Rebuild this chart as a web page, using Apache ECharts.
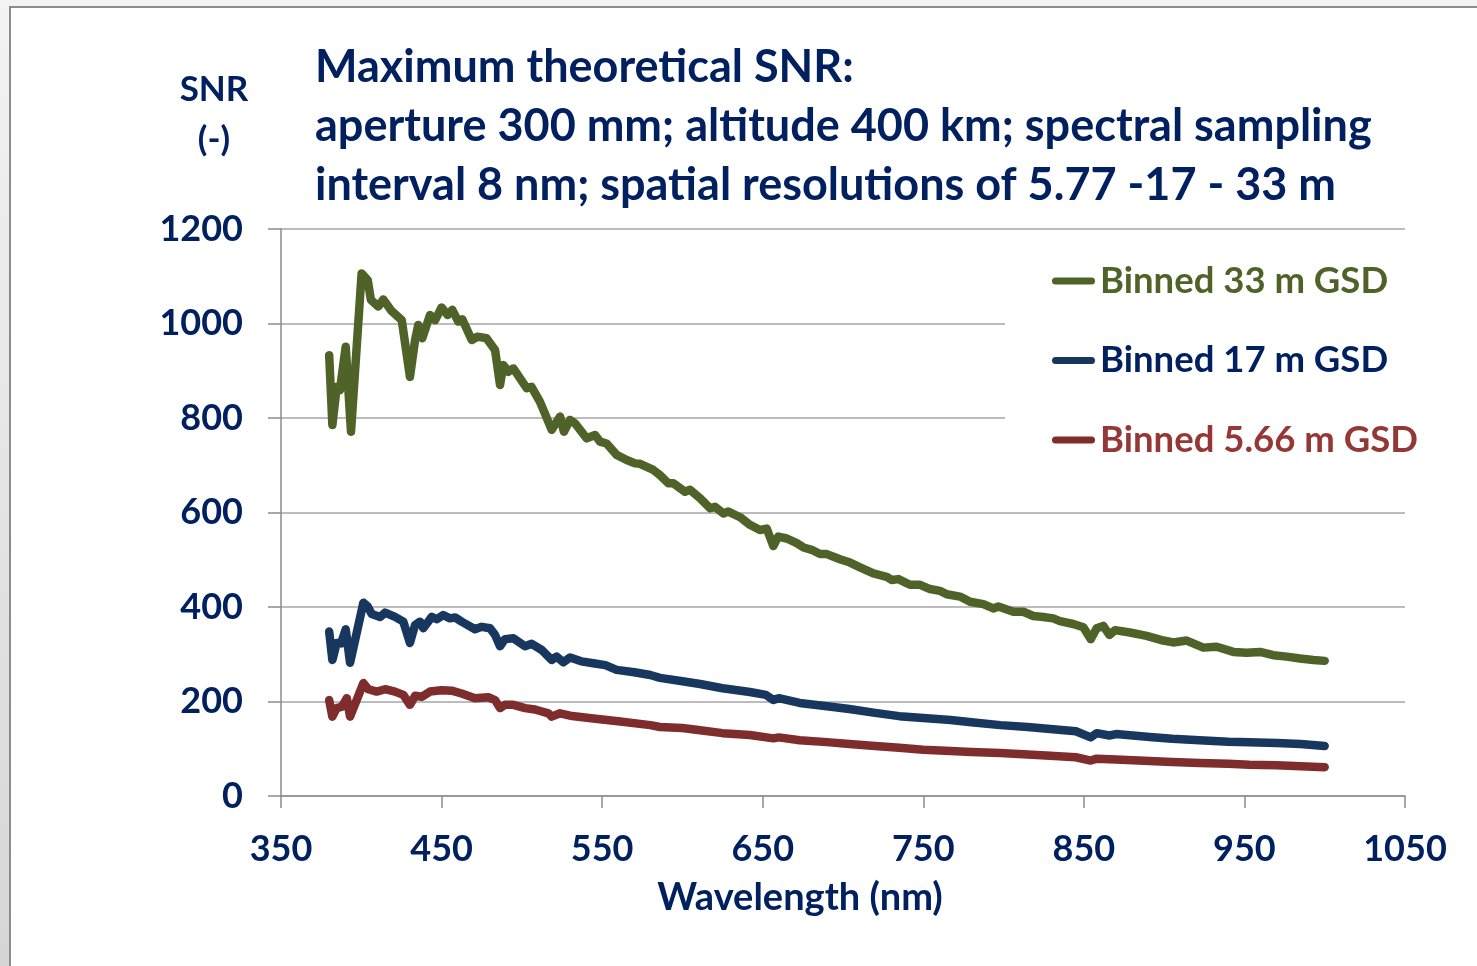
<!DOCTYPE html>
<html>
<head>
<meta charset="utf-8">
<script src="https://cdn.jsdelivr.net/npm/echarts@6/dist/echarts.min.js"></script>
<style>
  html, body { margin: 0; padding: 0; width: 1477px; height: 966px; overflow: hidden; }
  body { background: linear-gradient(to bottom, #f3f3f3, #d6d6d6); position: relative; }
  #frame { position: absolute; left: 9px; top: 6px; width: 1470px; height: 962px;
           background: #fff; border-left: 2px solid #8c8c8c; border-top: 2px solid #8c8c8c; }
  #main { position: absolute; left: 0; top: 0; width: 1477px; height: 966px; }
</style>
</head>
<body>
<div id="frame"></div>
<div id="main"></div>
<script>
// Binned 33 m GSD
var greenNm = [380, 382, 384.7, 386.7, 390.3, 393.6, 400.2, 404, 406, 410.6, 413.7, 418.5, 425.2, 430.3, 433.5, 435.5, 438,
    442.8, 446, 450, 453.8, 456.7, 460.4, 462.9, 468.8, 472.3, 478, 483.3, 486.4, 488.5, 491.6, 494.7, 503, 506, 511.3,
    518.6, 523.8, 526.2, 530, 533, 540.4, 545.6, 548.7, 552.8, 559, 565.3, 570.5, 573.6, 581.9, 586, 591.2, 594.3, 601.6,
    604.7, 611, 617.2, 620.3, 625.5, 628.6, 635.9, 642, 648.3, 652.5, 656.6, 659.7, 665, 671.2, 675.4, 680.5, 685.7,
    689.9, 698.1, 704.4, 710.6, 718.9, 727.2, 730.3, 734.5, 741.7, 748, 754.2, 760.4, 764.6, 772.9, 779.1, 787.4, 793.6,
    796.7, 806.1, 812.3, 818.5, 824.7, 830.9, 835.1, 843.4, 849.7, 854.3, 858, 862.1, 865.9, 869.4, 878.7, 889.1, 899.5,
    905.7, 914, 924.4, 932.7, 943.1, 951.4, 959.7, 968, 976.3, 984.6, 992.9, 1000];
var greenSnr = [933, 785, 866, 859, 951, 771, 1106, 1092, 1050, 1036, 1051, 1028, 1007, 887, 965, 997, 969,
    1018, 1007, 1034, 1018, 1029, 1004, 1009, 965, 972, 969, 944, 870, 912, 898, 905, 863, 866, 834,
    775, 803, 771, 796, 789, 757, 764, 750, 746, 722, 711, 704, 703, 690, 679, 662, 662, 644,
    648, 630, 609, 612, 598, 602, 590, 574, 563, 566, 529, 549, 545, 535, 526, 521, 512,
    512, 501, 494, 484, 471, 464, 457, 459, 447, 447, 438, 434, 427, 422, 411, 406, 397,
    401, 390, 390, 381, 379, 376, 370, 364, 357, 332, 355, 360, 341, 351, 346, 339, 329,
    325, 329, 314, 316, 305, 303, 305, 298, 295, 291, 288, 286];

// Binned 17 m GSD
var blueNm = [380, 382, 384.7, 387.4, 390.3, 393, 401.3, 404, 406.5, 411.7, 414.8, 421, 426.2, 430.3, 433.5, 436.6, 438.6,
    443.9, 447, 451, 455.2, 458.4, 462.5, 470.8, 475, 480.2, 483.3, 486.4, 489.5, 494.7, 502, 506.1, 512.4, 518.6, 521.7,
    525.8, 530, 537, 544.5, 552, 559, 570, 580, 586, 600, 611, 625, 642, 652, 656.6, 660, 673, 690, 704, 720, 735, 750,
    767, 780, 798, 815, 829, 845, 854.3, 858, 865.9, 870, 891, 905, 922, 940, 953, 970, 985, 1000];
var blueSnr = [348, 288, 324, 323, 353, 282, 409, 401, 385, 379, 388, 379, 369, 324, 362, 369, 355,
    379, 374, 383, 376, 378, 369, 353, 358, 355, 341, 317, 332, 334, 317, 322, 309, 288, 295,
    283, 293, 285, 281, 277, 267, 262, 256, 250, 243, 237, 228, 220, 214, 203, 207, 197, 190, 184, 176, 169, 165,
    161, 156, 150, 146, 142, 137, 124, 133, 128, 131, 125, 121, 118, 115, 114, 112, 110, 106];

// Binned 5.66 m GSD
var redNm = [380, 382, 384.7, 388, 391, 393, 401.3, 404.4, 409.6, 414.8, 421, 426.2, 430.3, 433.5, 437.6, 442.8, 450,
    456.3, 462.5, 470.8, 479.1, 483.3, 486.4, 489.5, 494.7, 502, 508.2, 516.5, 518.6, 523.8, 530, 544.5, 560, 580, 586,
    600, 611, 625, 642, 656.6, 660, 673, 690, 704, 720, 735, 750, 767, 780, 798, 815, 829, 845, 854.3, 858, 870, 891,
    905, 922, 940, 953, 970, 985, 1000];
var redSnr = [203, 168, 186, 189, 207, 168, 239, 226, 221, 226, 221, 214, 193, 212, 210, 221, 224,
    223, 217, 207, 209, 203, 186, 193, 193, 186, 183, 175, 168, 175, 170, 164, 158, 150, 146,
    144, 139, 133, 129, 122, 124, 118, 114, 110, 106, 102, 98, 95, 93, 91, 88, 85, 82, 75, 79, 77, 74,
    72, 70, 68, 66, 65, 63, 61];

var seriesNames = ['Binned 33 m GSD', 'Binned 17 m GSD', 'Binned 5.66 m GSD'];
var lineColors = ['#4f6228', '#17375e', '#7f2c2c'];
var legendColors = ['#4f6228', '#002060', '#953735'];
var titleLines = ['Maximum theoretical SNR:',
    'aperture 300 mm; altitude 400 km; spectral sampling',
    'interval 8 nm; spatial resolutions of 5.77 -17 - 33 m'];

var navy = '#002060';
var fontFam = 'Lato';

function pairs(xs, ys) {
    var out = [];
    for (var i = 0; i < xs.length; i++) out.push([xs[i], ys[i]]);
    return out;
}
function plain(v) { return String(v); }

var allData = [pairs(greenNm, greenSnr), pairs(blueNm, blueSnr), pairs(redNm, redSnr)];

var chart = echarts.init(document.getElementById('main'));
var option = {
    animation: false,
    grid: { left: 281, right: 72, top: 229, bottom: 170, containLabel: false },
    title: {
        text: titleLines.join('\n'),
        left: 310, top: 33,
        textStyle: { color: navy, fontFamily: fontFam, fontWeight: 'bold', fontSize: 45, lineHeight: 59 }
    },
    graphic: [
        { type: 'text', x: 214, y: 90, style: { text: 'SNR', fill: navy, font: 'bold 35px Lato', align: 'center', verticalAlign: 'middle' } },
        { type: 'text', x: 214, y: 140, style: { text: '(-)', fill: navy, font: 'bold 35px Lato', align: 'center', verticalAlign: 'middle' } },
        { type: 'text', x: 800, y: 898, style: { text: 'Wavelength (nm)', fill: navy, font: 'bold 38px Lato', align: 'center', verticalAlign: 'middle' } }
    ],
    legend: {
        orient: 'vertical',
        left: 1005, top: 245,
        padding: [16, 30, 16, 47],
        backgroundColor: '#fff',
        itemWidth: 43, itemHeight: 7, itemGap: 39.5,
        icon: 'path://M3.5,0 L39.5,0 A3.5,3.5 0 0 1 39.5,7 L3.5,7 A3.5,3.5 0 0 1 3.5,0 Z',
        textStyle: { fontFamily: fontFam, fontWeight: 'bold', fontSize: 36.5, lineHeight: 40 },
        data: seriesNames.map(function (n, i) {
            return { name: n, textStyle: { color: legendColors[i] } };
        })
    },
    xAxis: {
        type: 'value', min: 350, max: 1050, interval: 100,
        axisLine: { lineStyle: { color: '#8c8c8c', width: 1.5 } },
        axisTick: { show: true, length: 12, lineStyle: { color: '#8c8c8c', width: 1.5 } },
        splitLine: { show: false },
        axisLabel: { color: navy, fontFamily: fontFam, fontWeight: 'bold', fontSize: 36, margin: 35, formatter: plain }
    },
    yAxis: {
        type: 'value', min: 0, max: 1200, interval: 200,
        axisLine: { show: true, lineStyle: { color: '#8c8c8c', width: 1.5 } },
        axisTick: { show: true, length: 13, lineStyle: { color: '#8c8c8c', width: 1.5 } },
        splitLine: { show: true, lineStyle: { color: '#a6a6a6', width: 1.5 } },
        axisLabel: { color: navy, fontFamily: fontFam, fontWeight: 'bold', fontSize: 36, margin: 38, formatter: plain }
    },
    series: seriesNames.map(function (n, i) {
        return {
            name: n, type: 'line', data: allData[i],
            showSymbol: false, symbol: 'none',
            lineStyle: { color: lineColors[i], width: 8.5, cap: 'round', join: 'round' },
            itemStyle: { color: lineColors[i] }
        };
    })
};
chart.setOption(option);
</script>
</body>
</html>
